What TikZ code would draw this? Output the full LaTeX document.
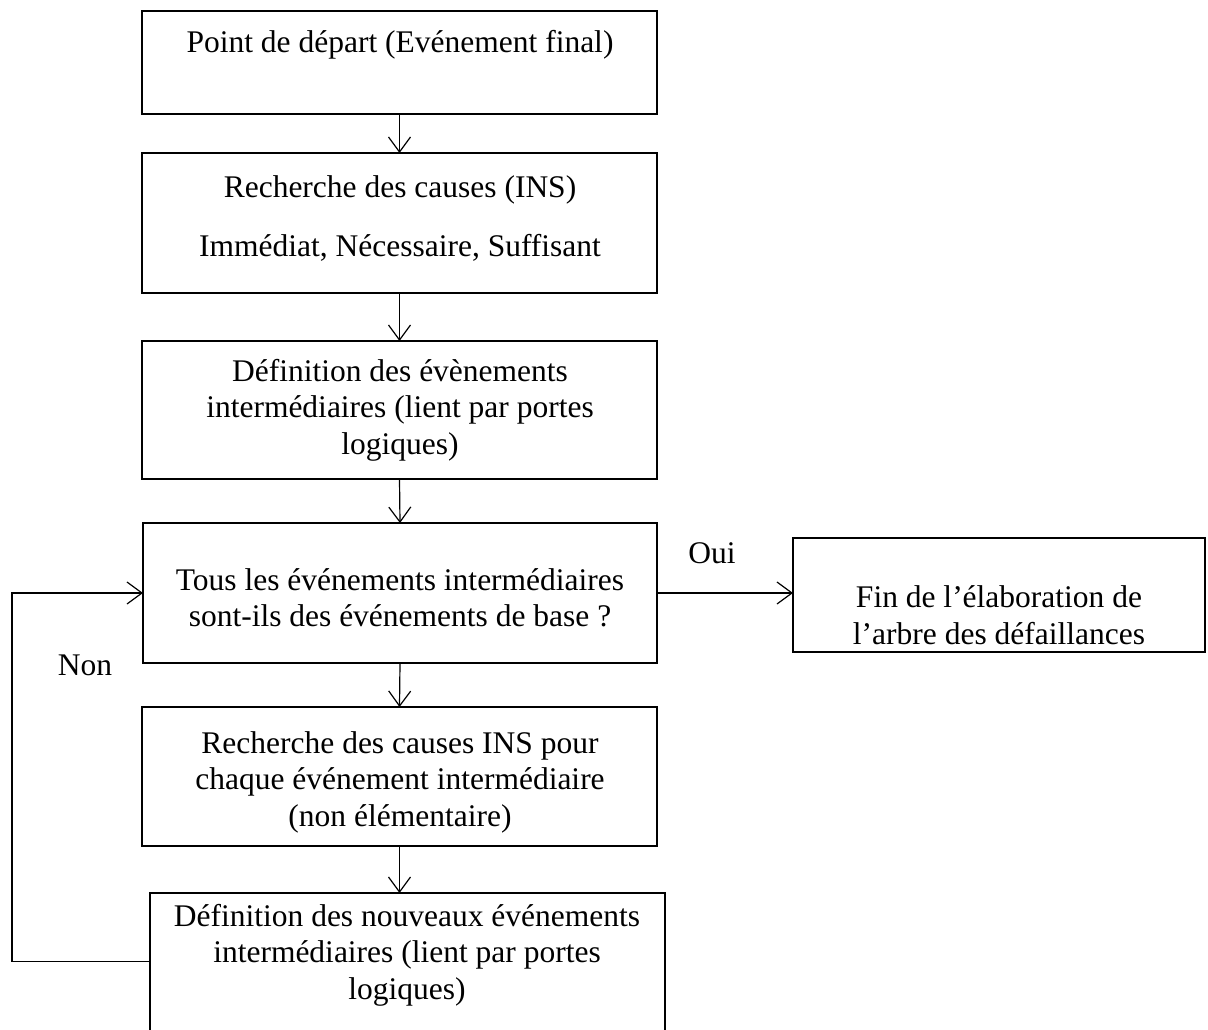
\documentclass[tikz,border=0pt]{standalone}
\usepackage{fontspec}
\setmainfont{Liberation Serif}
\usetikzlibrary{arrows.meta}
\begin{document}
\begin{tikzpicture}[x=1pt,y=-1pt,
  box/.style={draw, line width=1.4pt, inner sep=0pt, outer sep=0pt, anchor=north west},
  txt/.style={font=\fontsize{31.5}{36.5}\selectfont, align=center, inner sep=0pt},
  flow/.style={line width=1.2pt, -{Straight Barb[length=15pt,width=22pt,line width=1.2pt]}},
  back/.style={line width=1.8pt, -{Straight Barb[length=15pt,width=22pt,line width=1.2pt]}}
]
\useasboundingbox (0,0) rectangle (1208,1030);

% boxes
\node[box, minimum width=515pt, minimum height=103pt] (b1) at (142,11) {};
\node[box, minimum width=515pt, minimum height=140pt] (b2) at (142,153) {};
\node[box, minimum width=515pt, minimum height=138pt] (b3) at (142,341) {};
\node[box, minimum width=514pt, minimum height=140pt] (b4) at (143,523) {};
\node[box, minimum width=412pt, minimum height=114pt] (b5) at (793,538) {};
\node[box, minimum width=515pt, minimum height=139pt] (b6) at (142,707) {};
% last box runs past the lower edge: only three sides drawn
\node[box, draw=none, minimum width=515pt, minimum height=137pt] (b7) at (150,893) {};
\draw[line width=1.4pt] (b7.south west) -- (b7.north west) -- (b7.north east) -- (b7.south east);

% texts
\node[txt] (t1) at (400,45) {Point de départ (Evénement final)};
\node[txt] (t2a) at (400,190) {Recherche des causes (INS)};
\node[txt] (t2b) at (400,248) {Immédiat, Nécessaire, Suffisant};
\node[txt] (t3) at (400,410) {Définition des évènements\\intermédiaires (lient par portes\\logiques)};
\node[txt] (t4) at (400,598) {Tous les événements intermédiaires\\sont-ils des événements de base ?};
\node[txt] (t5) at (999,615) {Fin de l’élaboration de\\l’arbre des défaillances};
\node[txt] (t6) at (400,782) {Recherche des causes INS pour\\chaque événement intermédiaire\\(non élémentaire)};
\node[txt] (t7) at (407,955) {Définition des nouveaux événements\\intermédiaires (lient par portes\\logiques)};
\node[txt] (oui) at (712,553) {Oui};
\node[txt] (non) at (85,665) {Non};

% connectors
\draw[flow] (b1.south) -- (b2.north);
\draw[flow] (b2.south) -- (b3.north);
\draw[flow] (b3.south) -- (b4.north);
\draw[flow] (b4.south) -- (b6.north);
\draw[flow] (b6.south) -- (b6.south |- b7.north);
\draw[flow] (b4.east) -- (b4.east -| b5.west);
\coordinate (lc) at (12,0);
\draw[back] (b7.west) -- (b7.west -| lc) -- (b4.west -| lc) -- (b4.west);
\end{tikzpicture}
\end{document}
